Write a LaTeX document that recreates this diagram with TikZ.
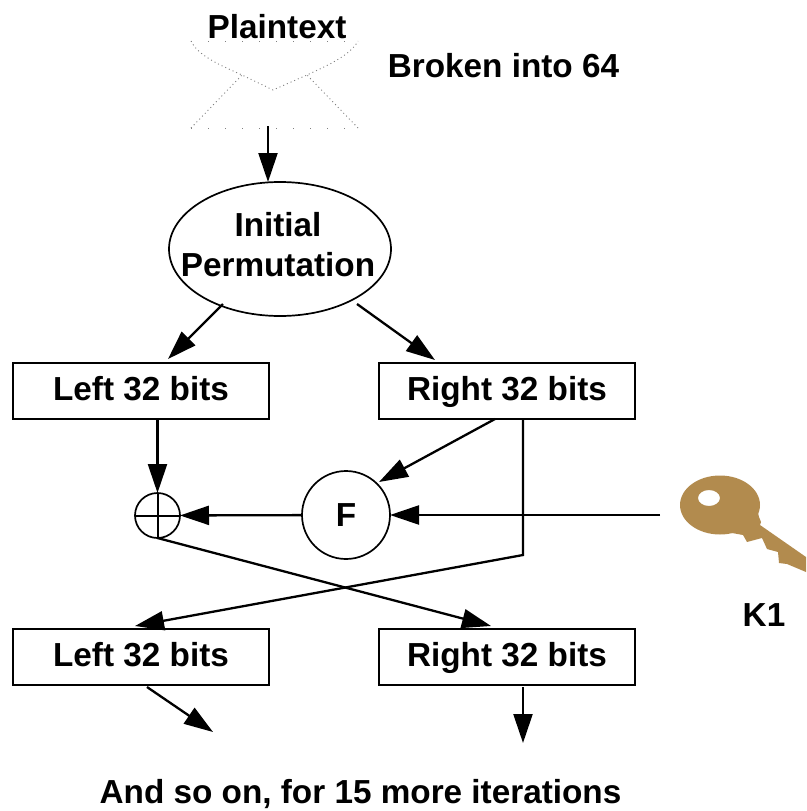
\documentclass[tikz,border=0pt]{standalone}
\usepackage{fontspec}
\setmainfont{Liberation Sans}
\usepackage{xcolor}
\usetikzlibrary{positioning}
\usetikzlibrary{arrows.meta}
\usetikzlibrary{shapes.geometric}
\definecolor{keycolor}{HTML}{B28B4E}
\tikzset{
  every node/.style={font=\fontsize{33.3}{39}\selectfont\bfseries, inner sep=0pt, outer sep=0pt},
  flow/.style={line width=2.3pt, -{Triangle[length=29pt, width=19pt]}},
  plainline/.style={line width=2pt},
  outline/.style={draw, line width=1.7pt},
  bitbox/.style={outline, minimum width=256pt, minimum height=56pt, text height=25pt, text depth=6pt},
  envelope/.style={gray, line width=0.9pt, dash pattern=on 1pt off 3pt},
  envelope edge/.style={gray, line width=0.9pt, dash pattern=on 1pt off 16pt},
}

\begin{document}
\begin{tikzpicture}[x=1pt, y=-1pt]
  \useasboundingbox (0,0) rectangle (806,811);

  % Define nodes
  \node (plain) at (277,27) {Plaintext};
  \node (broken) at (503.5,66) {Broken into 64};
  \node[outline, ellipse, minimum width=222pt, minimum height=134pt] (init) at (280,249) {};
  \node[align=center] (initlabel) at (278,245) {Initial\\[1pt]Permutation};
  \node[bitbox] (left1) at (141,391) {Left 32 bits};
  \node[bitbox, right=110pt of left1] (right1) {Right 32 bits};
  \node[bitbox, below=210pt of left1] (left2) {Left 32 bits};
  \node[bitbox, below=210pt of right1] (right2) {Right 32 bits};
  \node[outline, circle, minimum size=88pt] (f) at (346,515) {F};
  \node[outline, circle, minimum size=45pt] (xor) at (157.5,515.5) {};
  \node (k1) at (764,615) {K1};
  \node (more) at (360.5,794) {And so on, for 15 more iterations};

  % Envelope
  \coordinate (envtl) at (191,41);
  \coordinate (envtr) at (358,41);
  \coordinate (envbl) at (191,128);
  \coordinate (envbr) at (358,128);
  \coordinate (envmid) at (273,90);
  \coordinate (envfl) at (242,75);
  \coordinate (envfr) at (307,75);
  \draw[envelope edge] (envtl) -- (envtr);
  \draw[envelope edge] (envbl) -- (envbr);
  \draw[envelope] (envtl) .. controls (198,56) and (222,66) .. (envfl) -- (envmid) -- (envfr) .. controls (326,66) and (350,56) .. (envtr);
  \draw[envelope] (envbl) -- (envfl);
  \draw[envelope] (envbr) -- (envfr);

  % Key
  \fill[keycolor] (756,505) -- (759,517) -- (761,522) -- (760,525) -- (806,557) -- (806,572) -- (787,564) -- (779,563)
    -- (778,552) -- (767,549) -- (762,538) -- (747,542) -- (743,535) -- (732,533) -- cycle;
  \fill[keycolor, even odd rule] (720,505) ellipse [x radius=40, y radius=29.5] (709,498) ellipse [x radius=11, y radius=8];

  % Free ends
  \coordinate (plainend) at (268,126);
  \coordinate (plaintip) at (268,182);
  \coordinate (initl) at (223,304);
  \coordinate (initltip) at (168,359);
  \coordinate (initr) at (357,304);
  \coordinate (initrtip) at (435,360);
  \coordinate (lefttop) at (157.5,419);
  \coordinate (rightf) at (495,419);
  \coordinate (ftip) at (379,482);
  \coordinate (rightdown) at (523,419);
  \coordinate (bend) at (523,555);
  \coordinate (lefttip) at (135,626);
  \coordinate (righttip) at (491,626);
  \coordinate (keyend) at (660,515);
  \coordinate (out1) at (147,687);
  \coordinate (out1tip) at (213,732);
  \coordinate (out2) at (523,687);
  \coordinate (out2tip) at (523,743);

  % Connect nodes
  \draw[flow] (plainend) -- (plaintip);
  \draw[flow] (initl) -- (initltip);
  \draw[flow] (initr) -- (initrtip);
  \draw[flow] (lefttop) -- (xor.north);
  \draw[flow] (rightf) -- (ftip);
  \draw[flow] (rightdown) -- (bend) -- (lefttip);
  \draw[flow] (f) -- (xor);
  \draw[flow] (keyend) -- (f);
  \draw[flow] (xor.south) -- (righttip);
  \draw[flow] (out1) -- (out1tip);
  \draw[flow] (out2) -- (out2tip);
  \draw[plainline] (xor.north) -- (xor.south);
  \draw[plainline] (xor.west) -- (xor.east);

\end{tikzpicture}
\end{document}
